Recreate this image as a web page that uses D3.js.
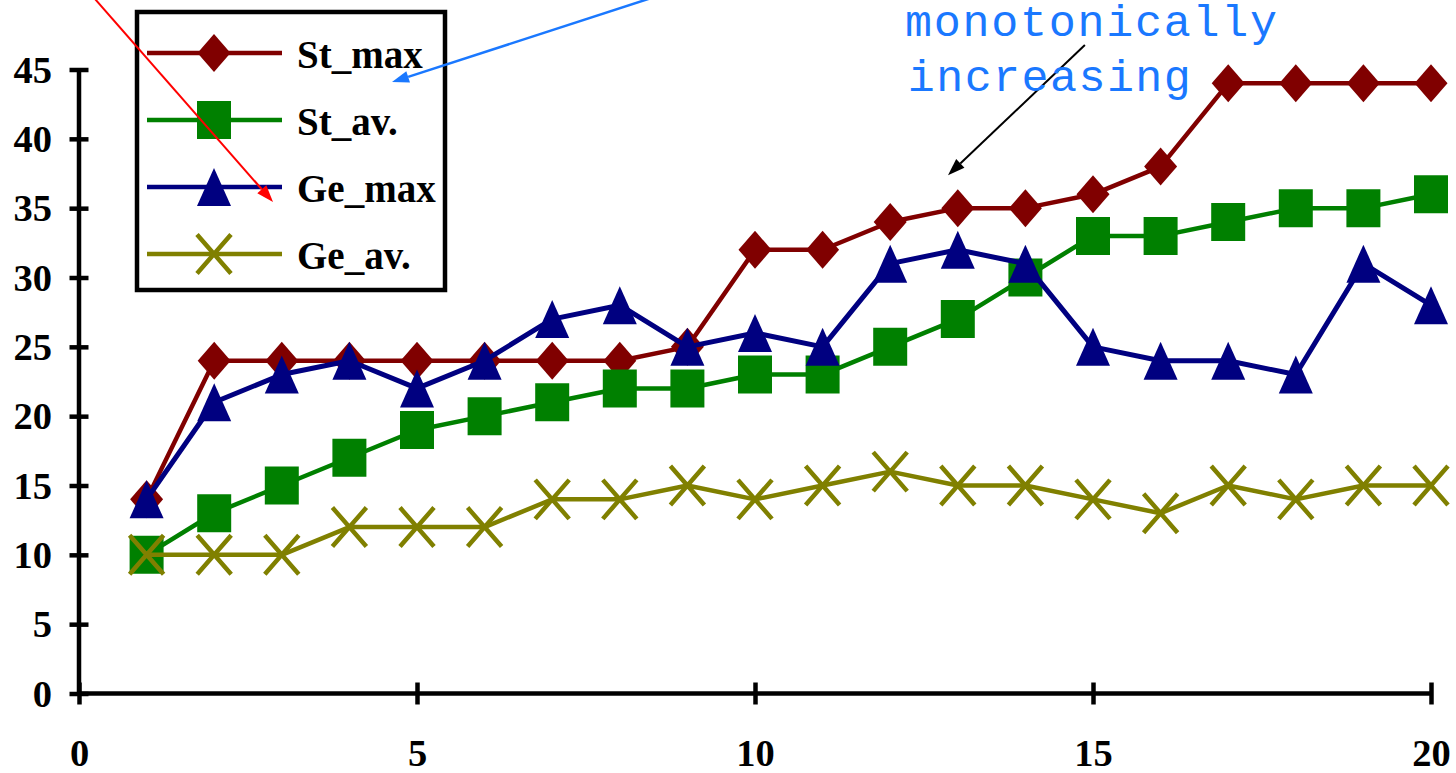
<!DOCTYPE html>
<html>
<head>
<meta charset="utf-8">
<script src="https://cdn.jsdelivr.net/npm/d3@7"></script>
<style>
  html, body { margin: 0; padding: 0; background: #fff; }
  svg { display: block; }
</style>
</head>
<body>
<svg id="chart" width="1456" height="773"></svg>
<script>
// ---------- data ----------
const xValues = [1,2,3,4,5,6,7,8,9,10,11,12,13,14,15,16,17,18,19,20];
const stMax = [14,24,24,24,24,24,24,24,25,32,32,34,35,35,36,38,44,44,44,44];
const stAv  = [10,13,15,17,19,20,21,22,22,23,23,25,27,30,33,33,34,35,35,36];
const geMax = [14,21,23,24,22,24,27,28,25,26,25,31,32,31,25,24,24,23,31,28];
const geAv  = [10,10,10,12,12,12,14,14,15,14,15,16,15,15,14,13,15,14,15,15];
const seriesNames = ["St_max", "St_av.", "Ge_max", "Ge_av."];
const xTicks = [0,5,10,15,20];
const yTicks = [0,5,10,15,20,25,30,35,40,45];
const annotationLines = ["monotonically", "increasing"];

// ---------- layout ----------
const svg = d3.select("#chart");
const x = d3.scaleLinear().domain([0, 20]).range([79, 1431]);
const y = d3.scaleLinear().domain([0, 45]).range([693.5, 69.5]);

const colors = ["#800000", "#008000", "#000080", "#808000"];
const seriesData = [stMax, stAv, geMax, geAv];
const shapes = ["diamond", "square", "triangle", "x"];

function markerPath(shape) {
  switch (shape) {
    case "diamond": return "M0,-19L16.5,0L0,19L-16.5,0Z";
    case "square": return "M-17,-19H17V19H-17Z";
    case "triangle": return "M0,-19L17,19L-17,19Z";
    case "x": return "M-17,-19.5L17,19.5M-17,19.5L17,-19.5";
  }
}
function drawMarker(g, shape, color) {
  const p = g.append("path").attr("d", markerPath(shape));
  if (shape === "x") {
    p.attr("fill", "none").attr("stroke", color).attr("stroke-width", 4.5);
  } else {
    p.attr("fill", color).attr("stroke", "none");
  }
}

// ---------- axes ----------
const font = "'Liberation Serif', 'Times New Roman', serif";

const yAxis = svg.append("g")
  .attr("transform", `translate(${x(0)},0)`)
  .call(d3.axisLeft(y).tickValues(yTicks).tickSize(0).tickPadding(27).tickFormat(d3.format("d")));
yAxis.select(".domain").attr("stroke", "#000").attr("stroke-width", 4.5)
  .attr("d", `M0,${y(45)}V${y(0)}`);
yAxis.selectAll(".tick line").attr("x1", -9.5).attr("x2", 9.5)
  .attr("stroke", "#000").attr("stroke-width", 4.5);
yAxis.selectAll(".tick text")
  .attr("font-family", font).attr("font-weight", "bold").attr("font-size", 38.5)
  .attr("fill", "#000").attr("dy", "0.33em");

const xAxis = svg.append("g")
  .attr("transform", `translate(0,${y(0)})`)
  .call(d3.axisBottom(x).tickValues(xTicks).tickSize(0).tickPadding(0).tickFormat(d3.format("d")));
xAxis.select(".domain").attr("stroke", "#000").attr("stroke-width", 4.5)
  .attr("d", `M${x(0)},0H${x(20)}`);
xAxis.selectAll(".tick line").attr("y1", -11).attr("y2", 11)
  .attr("stroke", "#000").attr("stroke-width", 4.5);
xAxis.selectAll(".tick text")
  .attr("font-family", font).attr("font-weight", "bold").attr("font-size", 38.5)
  .attr("fill", "#000").attr("dy", 0).attr("y", 72.5);

// ---------- series ----------
const line = d3.line().x((d, i) => x(xValues[i])).y(d => y(d));
seriesData.forEach((vals, si) => {
  const g = svg.append("g");
  g.append("path").datum(vals).attr("d", line)
    .attr("fill", "none").attr("stroke", colors[si]).attr("stroke-width", si === 2 ? 5 : 4.5)
    .attr("stroke-linejoin", "round");
  vals.forEach((v, i) => {
    const mg = g.append("g").attr("transform", `translate(${x(xValues[i])},${y(v)})`);
    drawMarker(mg, shapes[si], colors[si]);
  });
});

// ---------- legend ----------
const legend = svg.append("g");
legend.append("rect").attr("x", 137).attr("y", 12).attr("width", 308).attr("height", 278)
  .attr("fill", "#fff").attr("stroke", "#000").attr("stroke-width", 4.5);
seriesNames.forEach((name, i) => {
  const cy = 53 + i * 67;
  const row = legend.append("g");
  row.append("line").attr("x1", 147).attr("x2", 282).attr("y1", cy).attr("y2", cy)
    .attr("stroke", colors[i]).attr("stroke-width", 4.5);
  const mg = row.append("g").attr("transform", `translate(214,${cy})`);
  drawMarker(mg, shapes[i], colors[i]);
  row.append("text").attr("x", 297).attr("y", cy + 15)
    .attr("font-family", font).attr("font-weight", "bold").attr("font-size", 39)
    .attr("fill", "#000").text(name);
});

// ---------- annotations ----------
function arrow(x1, y1, x2, y2, color, width, headLen, headW) {
  const g = svg.append("g");
  const ang = Math.atan2(y2 - y1, x2 - x1);
  const bx = x2 - headLen * Math.cos(ang), by = y2 - headLen * Math.sin(ang);
  g.append("line").attr("x1", x1).attr("y1", y1).attr("x2", bx).attr("y2", by)
    .attr("stroke", color).attr("stroke-width", width);
  const px = -Math.sin(ang) * headW / 2, py = Math.cos(ang) * headW / 2;
  g.append("path")
    .attr("d", `M${x2},${y2}L${bx + px},${by + py}L${bx - px},${by - py}Z`)
    .attr("fill", color);
}
// red arrow (from off the top edge into the legend)
arrow(x(0.0), y(51.4), x(2.87), y(35.44), "#ff0000", 2, 17, 12);
// blue arrow
arrow(x(9.0), y(51.0), x(4.63), y(44.09), "#1a78ff", 2.5, 17, 12);
// black arrow
arrow(x(14.88), y(46.76), x(12.855), y(37.38), "#000", 2, 17, 12);

const annoFont = "'Liberation Mono', 'Courier New', monospace";
svg.append("text").attr("x", x(12.22)).attr("y", y(47.4))
  .attr("font-family", annoFont).attr("font-size", 45).attr("fill", "#1a78ff")
  .attr("textLength", 372).attr("lengthAdjust", "spacing")
  .text(annotationLines[0]);
svg.append("text").attr("x", x(12.26)).attr("y", y(43.44))
  .attr("font-family", annoFont).attr("font-size", 45).attr("fill", "#1a78ff")
  .attr("textLength", 283).attr("lengthAdjust", "spacing")
  .text(annotationLines[1]);
</script>
</body>
</html>
